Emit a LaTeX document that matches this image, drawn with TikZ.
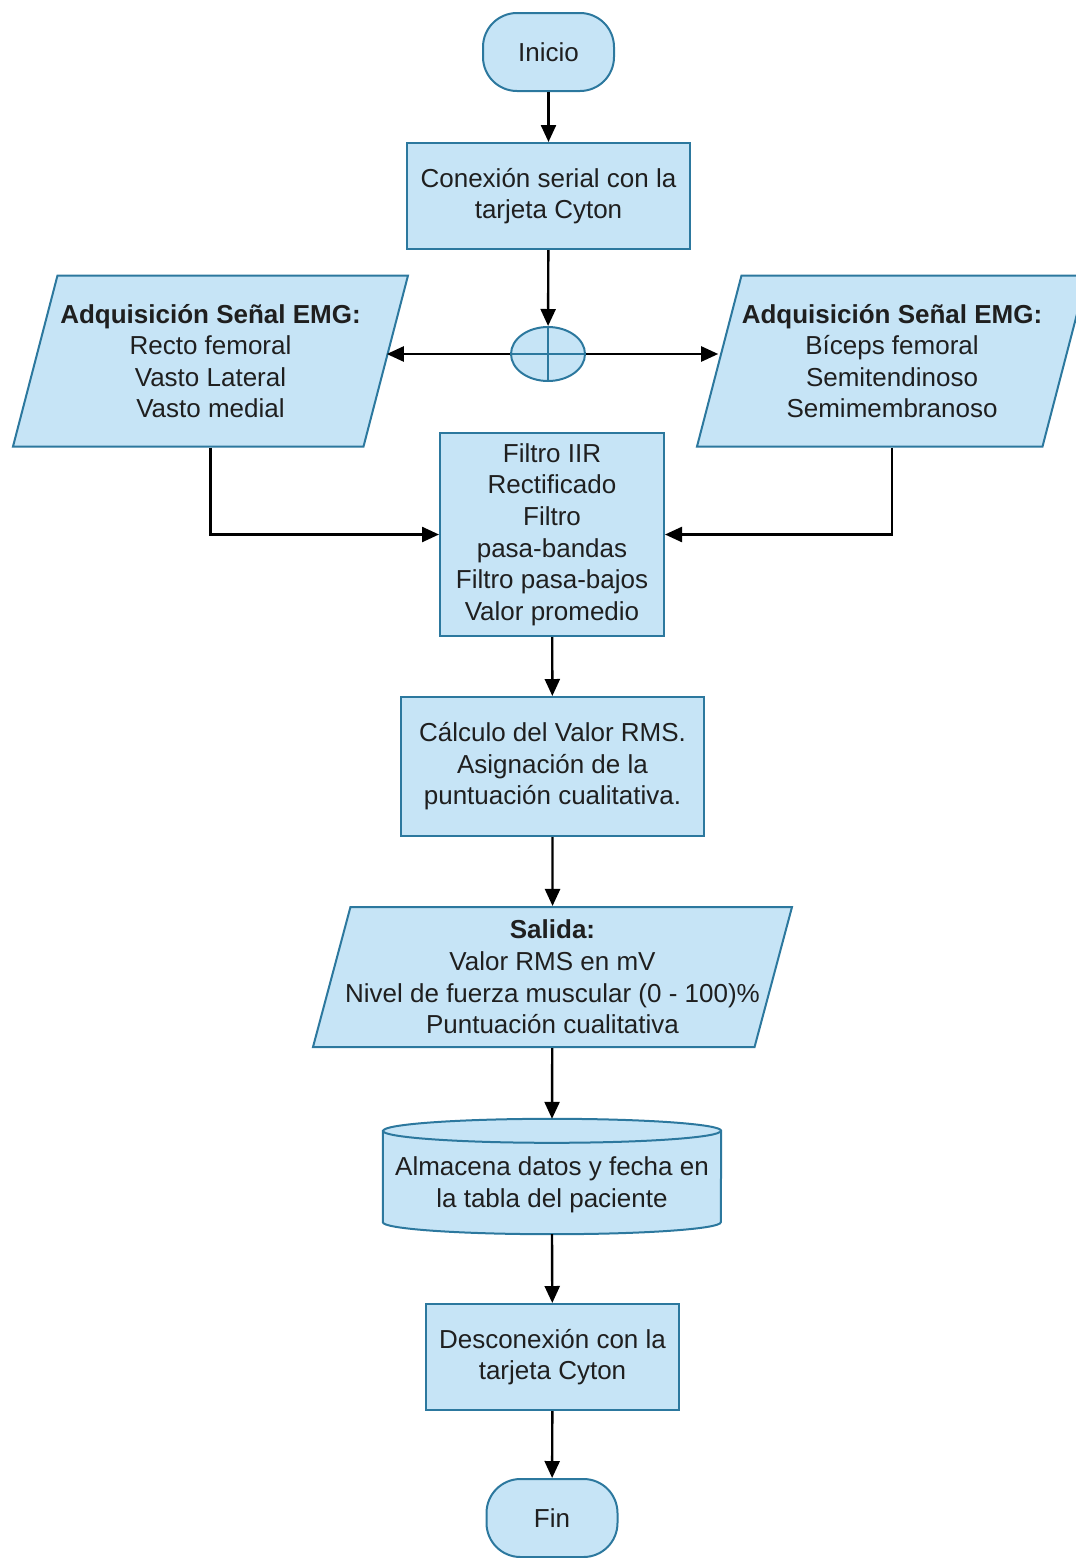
\documentclass[tikz,border=0pt]{standalone}
\usepackage{fontspec}
\setmainfont{Liberation Sans}
\usetikzlibrary{arrows.meta,shapes.geometric,backgrounds}
\definecolor{boxfill}{RGB}{198,228,246}
\definecolor{boxline}{RGB}{44,120,158}
\begin{document}
\begin{tikzpicture}[
 x=1pt,y=-1pt,
 every node/.style={font=\fontsize{26}{31.6}\selectfont,align=center,text=black!88},
 base/.style={draw=boxline,fill=boxfill,line width=2pt,inner sep=0pt},
 proc/.style={base,rectangle},
 term/.style={base,rectangle,rounded corners=34pt,minimum width=131pt,minimum height=78pt},
 io/.style={base,trapezium,trapezium stretches body},
 cross/.style={draw=boxline,line width=2pt},
 flow/.style={line width=2.4pt,-{Triangle[length=17pt,width=15pt]}}]
 \useasboundingbox (0,0) rectangle (1076,1558);
 % Start and serial link.
 \node[term] (ini) at (548.5,52) {Inicio};
 \node[proc,minimum width=283pt,minimum height=106pt] (con) at (548.5,196)
  {Conexión serial con la\\tarjeta Cyton};
 % Split towards the two acquisition blocks.
 \node[base,ellipse,minimum width=74pt,minimum height=54pt] (sum) at (548,354) {};
 \draw[cross] (sum.north)--(sum.south) (sum.west)--(sum.east);
 \node[io,trapezium left angle=68.7,trapezium right angle=111.3,
  minimum width=395pt,minimum height=171pt] (acqa) at (210.5,361)
  {\textbf{Adquisición Señal EMG:}\\Recto femoral\\Vasto Lateral\\Vasto medial};
 \node[io,trapezium left angle=68.7,trapezium right angle=111.3,
  minimum width=390pt,minimum height=171pt] (acqb) at (892,361)
  {\textbf{Adquisición Señal EMG:}\\Bíceps femoral\\Semitendinoso\\Semimembranoso};
 % Processing chain.
 \node[proc,minimum width=224pt,minimum height=203pt] (filt) at (552,534.5)
  {Filtro IIR\\Rectificado\\Filtro\\pasa-bandas\\Filtro pasa-bajos\\Valor promedio};
 \node[proc,minimum width=303pt,minimum height=139pt] (rms) at (552.5,766.5)
  {Cálculo del Valor RMS.\\Asignación de la\\puntuación cualitativa.};
 % the long line runs over the slanted sides
 \node[io,trapezium left angle=71.8,trapezium right angle=108.2,
  minimum width=479pt,minimum height=140pt] (out) at (552.5,977)
  {\textbf{Salida:}\\Valor RMS en mV\\\makebox[390pt]{Nivel de fuerza muscular (0 - 100)\%}\\Puntuación cualitativa};
 % Storage drum: the node holds the text, the drum is drawn behind it.
 \node[minimum width=338pt,minimum height=97pt,inner sep=0pt] (store) at (552,1185)
  {Almacena datos y fecha en\\la tabla del paciente};
 \begin{scope}[on background layer]
  \path[base] ([yshift=5.5pt]store.north west) -- ([yshift=11.5pt]store.south west)
   arc[start angle=180,end angle=360,x radius=169pt,y radius=12pt]
   -- ([yshift=5.5pt]store.north east)
   arc[start angle=0,end angle=180,x radius=169pt,y radius=12pt] -- cycle;
  \draw[cross] ([yshift=5.5pt]store.north west)
   arc[start angle=180,end angle=360,x radius=169pt,y radius=12pt];
 \end{scope}
 \node[proc,minimum width=253pt,minimum height=106pt] (dis) at (552.5,1357)
  {Desconexión con la\\tarjeta Cyton};
 \node[term] (fin) at (552,1518) {Fin};
 % Connectors.
 \draw[flow] (ini) -- (con);
 \draw[flow] (con) -- (sum);
 \draw[flow] (sum.west) -- (sum.west -| acqa.east);
 \draw[flow] (sum.east) -- (sum.east -| acqb.west);
 \draw[flow] (acqa.south) |- (filt.west);
 \draw[flow] (acqb.south) |- (filt.east);
 \draw[flow] (filt) -- (rms);
 \draw[flow] (rms) -- (out);
 \draw[flow] (out) -- ([yshift=17.5pt]store.north);
 \draw[flow] ([yshift=-0.5pt]store.south) -- (dis);
 \draw[flow] (dis) -- (fin);
\end{tikzpicture}
\end{document}
